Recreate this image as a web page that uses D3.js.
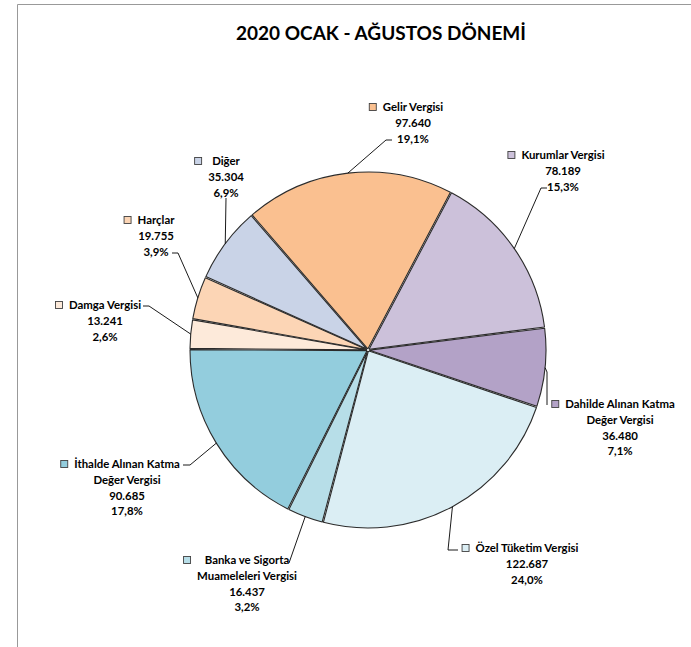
<!DOCTYPE html>
<html>
<head>
<meta charset="utf-8">
<script src="https://cdn.jsdelivr.net/npm/d3@7"></script>
<style>
  body { margin: 0; background: #fff; }
  text { font-family: Lato, "Open Sans", sans-serif; font-weight: bold; fill: #000; }
</style>
</head>
<body>
<svg id="chart"></svg>
<script>
// pie of tax revenue, Jan-Aug 2020

const categories = ["Gelir Vergisi", "Kurumlar Vergisi", "Dahilde Alınan Katma\nDeğer Vergisi",
	"Özel Tüketim Vergisi", "Banka ve Sigorta\nMuameleleri Vergisi", "İthalde Alınan Katma\nDeğer Vergisi",
	"Damga Vergisi", "Harçlar", "Diğer"];
const values = [97640, 78189, 36480, 122687, 16437, 90685, 13241, 19755, 35304];
const colors = ["#FAC090", "#CCC1DA", "#B3A2C7", "#DBEEF4", "#B7DEE8", "#93CDDD", "#FDEADA", "#FCD5B5", "#C9D3E7"];
const title = "2020 OCAK - AĞUSTOS DÖNEMİ";

// where Excel put each data label (centre x, first line y) and the leader bends
const labelPos = [
	{cx: 413, y: 107, pts: [[392, 140], [386, 140]]},
	{cx: 563, y: 155, pts: [[547, 188], [541, 188]]},
	{cx: 620, y: 404, pts: [[547, 405], [547, 372]]},
	{cx: 527, y: 548, pts: [[458, 550], [448, 550]]},
	{cx: 247, y: 560, pts: [[289, 563]]},
	{cx: 127, y: 464, pts: [[183, 465], [190, 465]]},
	{cx: 105, y: 305, pts: [[143, 306], [149, 306]]},
	{cx: 156, y: 220, pts: [[172, 253], [178, 253]]},
	{cx: 226, y: 161, pts: [[226, 198]]}
];

const width = 691, height = 647;
const cx = 368, cy = 350, radius = 178;
const lineH = 15.8;

const svg = d3.select("#chart")
	.attr("width", width)
	.attr("height", height);

// frame of the chart area
svg.append("path")
	.attr("d", "M17.5," + height + "V4.5H" + width)
	.attr("fill", "none")
	.attr("stroke", "#999")
	.attr("stroke-width", 1);

svg.append("text")
	.attr("x", 381)
	.attr("y", 33)
	.attr("dy", "0.35em")
	.attr("text-anchor", "middle")
	.style("font-size", "19px")
	.text(title);

const tr = d3.formatLocale({decimal: ",", thousands: ".", grouping: [3], currency: ["", ""]});
const fmtVal = tr.format(",d");
const fmtPct = tr.format(".1f");
const total = d3.sum(values);

const startA = -40.8 * Math.PI / 180;
const pie = d3.pie()
	.sort(null)
	.startAngle(startA)
	.endAngle(startA + 2 * Math.PI)
	.padAngle(0.007);

const arc = d3.arc()
	.innerRadius(1.5)
	.outerRadius(radius)
	.padRadius(radius);

const arcs = pie(values);

const g = svg.append("g")
	.attr("transform", "translate(" + cx + "," + cy + ")");

g.selectAll("path.slice")
	.data(arcs)
	.join("path")
	.attr("class", "slice")
	.attr("d", arc)
	.attr("fill", (d, i) => colors[i])
	.attr("stroke", "#2b2b2b")
	.attr("stroke-width", 1.1)
	.attr("stroke-linejoin", "round");

// leader lines: label bend points, then the slice edge at mid angle
const edge = d => {
	let a = (d.startAngle + d.endAngle) / 2;
	return [cx + radius * Math.sin(a), cy - radius * Math.cos(a)];
};

svg.selectAll("polyline.leader")
	.data(arcs)
	.join("polyline")
	.attr("class", "leader")
	.attr("points", (d, i) => labelPos[i].pts.concat([edge(d)]).map(p => p.join(",")).join(" "))
	.attr("fill", "none")
	.attr("stroke", "#000")
	.attr("stroke-width", 0.9);

// labels
arcs.forEach((d, i) => {
	let pos = labelPos[i];
	let lines = categories[i].split("\n");
	lines.push(fmtVal(values[i]));
	lines.push(fmtPct(values[i] / total * 100) + "%");

	let lg = svg.append("g");
	let texts = lg.selectAll("text")
		.data(lines)
		.join("text")
		.attr("x", pos.cx)
		.attr("y", (t, k) => pos.y + k * lineH)
		.attr("dy", "0.35em")
		.attr("text-anchor", "middle")
		.style("font-size", "11.4px")
		.text(t => t);

	let maxW = d3.max(texts.nodes(), n => n.getComputedTextLength());
	lg.append("rect")
		.attr("x", pos.cx - maxW / 2 - 13.5)
		.attr("y", pos.y - 3.5)
		.attr("width", 7)
		.attr("height", 7)
		.attr("fill", colors[i])
		.attr("stroke", "#404040")
		.attr("stroke-width", 0.9);
});
</script>
</body>
</html>
